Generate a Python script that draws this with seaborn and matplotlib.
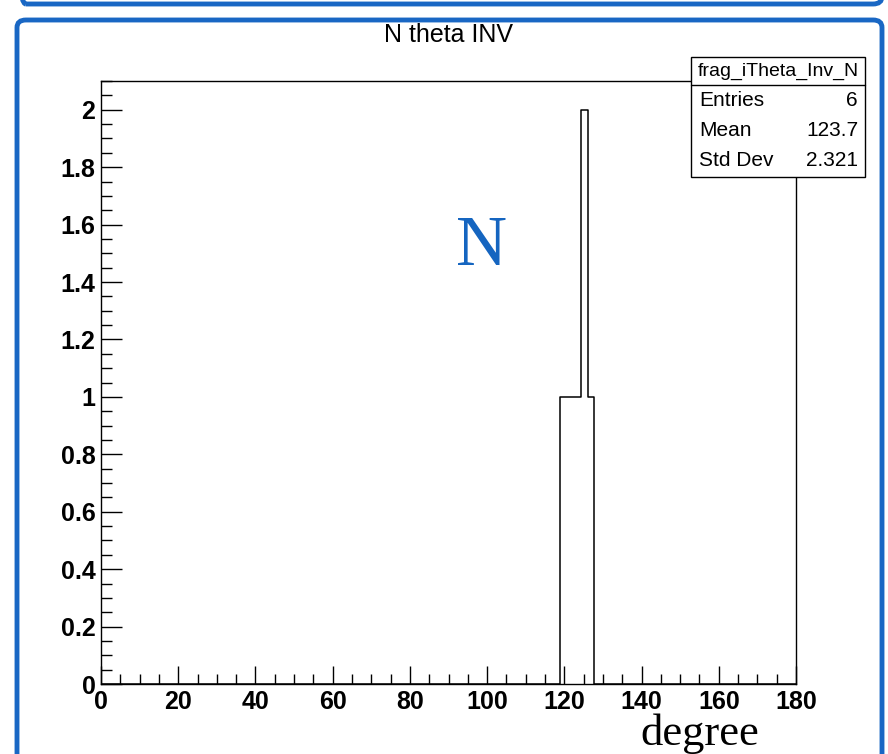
import numpy as np
import matplotlib
matplotlib.use("Agg")
import matplotlib.pyplot as plt
import seaborn as sns
from matplotlib.patches import FancyBboxPatch, Rectangle
from matplotlib.lines import Line2D

# ---- data (bin centres of filled entries, ROOT histogram 100 bins over 0..180) ----
theta_values = [119.7, 121.5, 123.3, 125.1, 125.1, 126.9]
n_bins = 100
x_range = (0, 180)
x_ticks = [0, 20, 40, 60, 80, 100, 120, 140, 160, 180]
y_ticks = [0, 0.2, 0.4, 0.6, 0.8, 1, 1.2, 1.4, 1.6, 1.8, 2]
y_tick_labels = ["0", "0.2", "0.4", "0.6", "0.8", "1", "1.2", "1.4", "1.6", "1.8", "2"]
stats_name = "frag_iTheta_Inv_N"
stats_rows = [("Entries", "6"), ("Mean", "123.7"), ("Std Dev", "2.321")]
title = "N theta INV"
x_label = "degree"
big_label = "N"

sns.set_theme(style="white")
SANS = ['Liberation Sans', 'DejaVu Sans']
SERIF = ['Liberation Serif', 'DejaVu Serif']
plt.rcParams['font.family'] = SANS

W, H = 888, 754
fig = plt.figure(figsize=(W / 100, H / 100), dpi=100)
fig.patch.set_facecolor("white")

def fx(x):
    return x / W

def fy(y):
    return 1 - y / H

L, R, T, B = 101, 796, 81, 684
ax = fig.add_axes([fx(L), fy(B), fx(R) - fx(L), fy(T) - fy(B)])
ax.set_facecolor("white")

sns.histplot(x=theta_values, bins=n_bins, binrange=x_range, element="step",
             fill=False, color="black", linewidth=1.1, ax=ax)

ax.set_xlim(*x_range)
ax.set_ylim(0, 2.1)
ax.set_xticks(x_ticks)
ax.set_xticklabels([str(t) for t in x_ticks])
ax.set_yticks(y_ticks)
ax.set_yticklabels(y_tick_labels)
ax.set_xticks(np.arange(0, 181, 5), minor=True)
ax.set_yticks(np.arange(0, 2.101, 0.05), minor=True)
ax.set_xlabel("")
ax.set_ylabel("")
for s in ax.spines.values():
    s.set_visible(True)
    s.set_color("black")
    s.set_linewidth(1.0)
ax.tick_params(axis="both", which="both", direction="in", colors="black",
               top=False, right=False, left=True, bottom=True, width=1.0)
ax.tick_params(axis="x", which="major", length=13, pad=4)
ax.tick_params(axis="x", which="minor", length=7.2)
ax.tick_params(axis="y", which="major", length=15, pad=4)
ax.tick_params(axis="y", which="minor", length=7.6)
for lab in ax.get_xticklabels() + ax.get_yticklabels():
    lab.set_fontsize(18)
    lab.set_fontweight("bold")
ax.grid(False)

# title
fig.text(fx(448), fy(35), title, ha="center", va="center", fontsize=18, color="black")

# big blue N
fig.text(fx(456), fy(265), big_label, ha="left", va="baseline", fontsize=51,
         family=SERIF, color="#1565c0")

# x label
fig.text(fx(640), fy(745), x_label, ha="left", va="baseline", fontsize=32,
         family=SERIF, color="black")

# stats box
bx0, bx1, by0, by1 = 691, 865, 57, 177
fig.add_artist(Rectangle((fx(bx0), fy(by1)), fx(bx1) - fx(bx0), fy(by0) - fy(by1),
                         transform=fig.transFigure, facecolor="white",
                         edgecolor="black", linewidth=1.0, zorder=5))
fig.add_artist(Line2D([fx(bx0), fx(bx1)], [fy(85), fy(85)], transform=fig.transFigure,
                      color="black", linewidth=1.0, zorder=6))
fig.text(fx((bx0 + bx1) / 2), fy(71), stats_name, ha="center", va="center",
         fontsize=14, color="black", zorder=7)
for i, (k, v) in enumerate(stats_rows):
    yy = 101 + 30 * i
    fig.text(fx(699), fy(yy), k, ha="left", va="center", fontsize=15, color="black",
             zorder=7)
    fig.text(fx(858), fy(yy), v, ha="right", va="center", fontsize=15, color="black",
             zorder=7)

# blue slide frames
blue = "#1967c4"
fig.add_artist(FancyBboxPatch((fx(17), fy(800)), fx(882) - fx(17), fy(20) - fy(800),
                              boxstyle="round,pad=0,rounding_size=0.010",
                              transform=fig.transFigure, facecolor="none",
                              edgecolor=blue, linewidth=3.5, zorder=10))
fig.add_artist(FancyBboxPatch((fx(17), fy(4)), fx(882) - fx(17), fy(-100) - fy(4),
                              boxstyle="round,pad=0,rounding_size=0.010",
                              transform=fig.transFigure, facecolor="none",
                              edgecolor=blue, linewidth=3.5, zorder=10))

fig.savefig("out.png", dpi=100)
